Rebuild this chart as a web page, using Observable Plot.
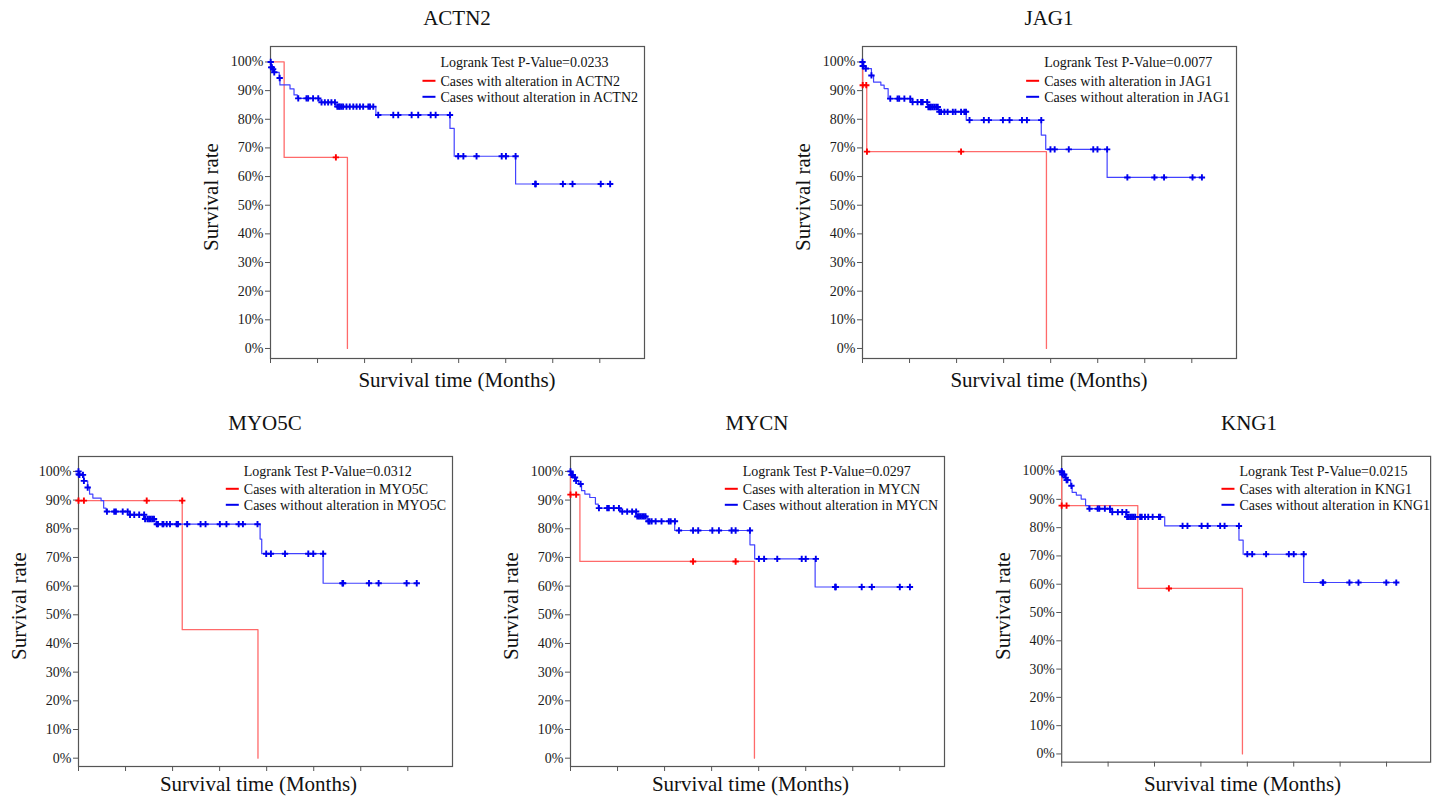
<!DOCTYPE html>
<html>
<head>
<meta charset="utf-8">
<script src="https://cdn.jsdelivr.net/npm/d3@7"></script>
<script src="https://cdn.jsdelivr.net/npm/@observablehq/plot@0.6"></script>
<style>
  html, body { margin: 0; padding: 0; background: #ffffff; }
  #root { position: relative; width: 1440px; height: 803px; overflow: hidden; background: #fff;
          font-family: "Liberation Serif", "Times New Roman", serif; }
  .panel { position: absolute; }
  #overlay { position: absolute; left: 0; top: 0; pointer-events: none; }
</style>
</head>
<body>
<div id="root"></div>
<script>
// ---------------- DATA ----------------
const genes = ["ACTN2", "JAG1", "MYO5C", "MYCN", "KNG1"];
const pValues = ["0.0233", "0.0077", "0.0312", "0.0297", "0.0215"];
const xTicks = [0, 20, 40, 60, 80, 100, 120, 140];
const yTicks = [0, 10, 20, 30, 40, 50, 60, 70, 80, 90, 100];
const seriesNames = ["Cases with alteration in ", "Cases without alteration in "];

// [time (months), survival %] - step points (value holds after the time)
const actn2WithoutSteps = [[0,100],[0.4,98.1],[1.0,97.5],[1.8,96.4],[3.7,94.4],[4.0,92.0],[8.3,90.6],[10.0,88.5],[11.4,87.3],[21.0,85.9],[27.8,84.4],[44.8,81.5],[76.3,76.8],[78.1,67.1],[104.2,57.4],[144.7,57.4]];
const actn2WithoutCensored = [[0.1,100],[0.3,98.1],[0.6,98.1],[1.1,97.5],[1.6,96.4],[3.9,94.4],
  [11.8,87.3],[15.3,87.3],[16.0,87.3],[18.1,87.3],[20.3,87.3],
  [21.7,85.9],[23.1,85.9],[24.5,85.9],[25.9,85.9],[27.4,85.9],
  [28.4,84.4],[29.0,84.4],[29.5,84.4],[30.2,84.4],[30.9,84.4],[32.3,84.4],[33.7,84.4],[35.2,84.4],[36.6,84.4],[38.0,84.4],[39.4,84.4],[41.6,84.4],[42.3,84.4],[43.7,84.4],
  [45.8,81.5],[52.2,81.5],[54.3,81.5],[60.0,81.5],[62.8,81.5],[68.1,81.5],[70.2,81.5],[76.3,81.5],
  [79.8,67.1],[82.0,67.1],[87.6,67.1],[98.3,67.1],[100.1,67.1],[104.2,67.1],
  [112.5,57.4],[112.8,57.4],[124.3,57.4],[128.4,57.4],[140.4,57.4],[144.4,57.4]];
const actn2WithSteps = [[0,100],[5.8,66.7],[32.7,0]];
const actn2WithCensored = [[27.8,66.7]];

const jag1WithoutSteps = [[0,100],[0.1,98.6],[1.4,97.7],[3.8,95.3],[4.7,93.0],[7.8,91.9],[9.2,90.7],[10.9,87.2],[20.6,86.0],[27.7,84.3],[32.4,82.6],[44.1,79.7],[76.0,74.5],[77.9,69.5],[104.0,59.7],[144.5,59.7]];
const jag1WithoutCensored = [[0,100],[0.1,98.6],[0.4,98.6],[1.4,97.7],[3.8,95.3],
  [11.8,87.2],[14.9,87.2],[15.6,87.2],[17.8,87.2],[20.3,87.2],
  [21.3,86.0],[23.4,86.0],[24.9,86.0],[25.6,86.0],[27.5,86.0],
  [28.0,84.3],[28.6,84.3],[29.1,84.3],[29.8,84.3],[30.5,84.3],[31.3,84.3],[32.0,84.3],
  [32.7,82.6],[33.4,82.6],[34.8,82.6],[36.2,82.6],[38.4,82.6],[39.5,82.6],[41.9,82.6],[43.3,82.6],[44.0,82.6],
  [45.5,79.7],[51.6,79.7],[53.7,79.7],[59.7,79.7],[62.5,79.7],[67.8,79.7],[69.9,79.7],[76.0,79.7],
  [79.9,69.5],[81.7,69.5],[87.7,69.5],[98.1,69.5],[99.9,69.5],[104.0,69.5],
  [112.6,59.7],[124.1,59.7],[128.2,59.7],[140.3,59.7],[144.3,59.7]];
const jag1WithSteps = [[0,100],[0.1,91.9],[1.8,68.7],[78.2,0]];
const jag1WithCensored = [[0.1,91.9],[1.6,91.9],[1.9,68.7],[41.9,68.7]];

const myo5cWithoutSteps = [[0,100],[0.4,98.8],[2.3,96.7],[3.9,94.4],[4.7,92.1],[6.1,90.7],[9.6,89.8],[10.7,87.2],[11.7,86.0],[20.9,84.9],[27.6,83.4],[32.9,81.6],[77.2,76.4],[77.9,71.3],[104.0,61.0],[143.9,61.0]];
const myo5cWithoutCensored = [[0,100],[0.1,99.0],[0.4,98.8],[1.9,98.8],[2.3,96.7],[3.9,94.4],
  [12.1,86.0],[15.2,86.0],[15.9,86.0],[18.8,86.0],[20.9,86.0],
  [21.9,84.9],[23.7,84.9],[25.8,84.9],[27.9,84.9],
  [28.3,83.4],[29.3,83.4],[30.0,83.4],[30.7,83.4],[31.4,83.4],[32.1,83.4],
  [33.3,81.6],[33.8,81.6],[35.7,81.6],[36.1,81.6],[37.5,81.6],[38.9,81.6],[41.7,81.6],[42.3,81.6],[46.2,81.6],[51.9,81.6],[54.0,81.6],[60.1,81.6],[62.9,81.6],[68.1,81.6],[69.9,81.6],[76.1,81.6],
  [79.8,71.3],[81.8,71.3],[87.8,71.3],[97.7,71.3],[99.8,71.3],[104.0,71.3],
  [112.2,61.0],[112.5,61.0],[123.5,61.0],[127.6,61.0],[139.5,61.0],[143.8,61.0]];
const myo5cWithSteps = [[0,89.8],[44.1,44.8],[76.3,0]];
const myo5cWithCensored = [[0,89.8],[2.3,89.8],[29.0,89.8],[44.1,89.8]];

const mycnWithoutSteps = [[0,100],[0.7,98.8],[1.4,97.9],[2.4,96.7],[3.5,95.6],[4.7,93.3],[6.1,92.1],[8.2,90.9],[10.6,88.6],[11.8,87.2],[21.3,86.0],[27.7,84.3],[32.6,82.6],[44.3,79.4],[76.3,74.4],[78.3,69.5],[104.0,59.7],[144.4,59.7]];
const mycnWithoutCensored = [[0,100],[0.4,98.8],[1.0,98.8],[1.9,97.9],[2.4,96.7],[4.3,95.6],
  [12.1,87.2],[15.6,87.2],[16.3,87.2],[18.4,87.2],[20.6,87.2],
  [22.0,86.0],[24.1,86.0],[26.2,86.0],[27.9,86.0],
  [28.4,84.3],[29.1,84.3],[29.8,84.3],[30.5,84.3],[31.2,84.3],[31.9,84.3],
  [33.1,82.6],[33.6,82.6],[34.5,82.6],[36.2,82.6],[38.7,82.6],[41.8,82.6],[42.6,82.6],[44.4,82.6],
  [46.1,79.4],[52.1,79.4],[54.3,79.4],[60.3,79.4],[63.1,79.4],[68.5,79.4],[70.2,79.4],[76.3,79.4],
  [80.1,69.5],[82.3,69.5],[87.9,69.5],[98.3,69.5],[100.0,69.5],[104.3,69.5],
  [112.5,59.7],[112.8,59.7],[123.8,59.7],[128.1,59.7],[140.0,59.7],[144.3,59.7]];
const mycnWithSteps = [[0,100],[0,91.9],[4.0,68.6],[78.2,0]];
const mycnWithCensored = [[0,91.9],[2.4,91.9],[52.1,68.6],[70.2,68.6]];

const kng1WithoutSteps = [[0,100],[0.3,98.8],[1.7,97.7],[2.1,96.8],[3.9,94.8],[4.5,92.5],[6.3,91.5],[8.4,90.1],[10.3,87.8],[11.7,86.7],[21.1,85.5],[27.5,83.8],[44.4,80.6],[76.4,75.6],[78.2,70.6],[104.3,60.6],[144.2,60.6]];
const kng1WithoutCensored = [[0,100],[0.1,99.5],[0.3,98.8],[1.1,98.8],[1.7,97.7],[2.1,96.8],[2.5,96.8],[4.2,94.8],
  [12.0,86.7],[15.5,86.7],[16.2,86.7],[18.6,86.7],[20.8,86.7],
  [21.8,85.5],[24.2,85.5],[26.1,85.5],[27.9,85.5],
  [28.2,83.8],[28.9,83.8],[29.6,83.8],[30.3,83.8],[31.0,83.8],[31.7,83.8],[33.8,83.8],[34.5,83.8],[35.9,83.8],[37.3,83.8],[39.2,83.8],[41.9,83.8],[42.5,83.8],
  [52.1,80.6],[54.2,80.6],[60.3,80.6],[62.9,80.6],[68.3,80.6],[70.2,80.6],[76.4,80.6],
  [80.0,70.6],[82.1,70.6],[88.1,70.6],[97.9,70.6],[100.0,70.6],[104.3,70.6],
  [112.5,60.6],[112.7,60.6],[124.0,60.6],[127.9,60.6],[139.9,60.6],[144.2,60.6]];
const kng1WithSteps = [[0,100],[0,87.8],[32.8,58.5],[77.9,0]];
const kng1WithCensored = [[0,87.8],[2.1,87.8],[46.2,58.5]];

// ---------------- LAYOUT ----------------
const panels = [
  {gene: 0, fx: 270,  fy: 46,  fh: 312, ydom: [-3.5, 105.4], wo: actn2WithoutSteps, woC: actn2WithoutCensored, w: actn2WithSteps, wC: actn2WithCensored, row: 0},
  {gene: 1, fx: 862,  fy: 46,  fh: 312, ydom: [-3.5, 105.4], wo: jag1WithoutSteps,  woC: jag1WithoutCensored,  w: jag1WithSteps,  wC: jag1WithCensored,  row: 0},
  {gene: 2, fx: 78,   fy: 456, fh: 310, ydom: [-2.9, 105.2], wo: myo5cWithoutSteps, woC: myo5cWithoutCensored, w: myo5cWithSteps, wC: myo5cWithCensored, row: 1},
  {gene: 3, fx: 570,  fy: 456, fh: 310, ydom: [-2.9, 105.2], wo: mycnWithoutSteps,  woC: mycnWithoutCensored,  w: mycnWithSteps,  wC: mycnWithCensored,  row: 1},
  {gene: 4, fx: 1062, fy: 456, fh: 310, ydom: [-2.9, 105.2], wo: kng1WithoutSteps,  woC: kng1WithoutCensored,  w: kng1WithSteps,  wC: kng1WithCensored,  row: 1}
];
const FW = 374, ML = 60, MR = 10, MT = 10, MB = 20;
const FONT = '"Liberation Serif", "Times New Roman", serif';
const RED_LINE = "#ff6a6a", BLUE_LINE = "#4242ff", RED_PT = "#ff0000", BLUE_PT = "#0000ee";

const root = document.getElementById("root");

for (const p of panels) {
  const chart = Plot.plot({
    width: FW + ML + MR,
    height: p.fh + MT + MB,
    marginLeft: ML, marginRight: MR, marginTop: MT, marginBottom: MB,
    x: {domain: [0, 159]},
    y: {domain: p.ydom},
    style: {fontFamily: FONT, fontSize: "14px", background: "transparent", color: "#1a1a1a", overflow: "visible"},
    marks: [
      Plot.axisY({ticks: yTicks, tickFormat: d => d + "%", tickSize: 5, tickPadding: 2, fontSize: 14, label: null, stroke: "#555"}),
      Plot.axisX({ticks: xTicks, tickFormat: () => "", tickSize: 5, label: null, stroke: "#555"}),
      Plot.frame({stroke: "#555", strokeWidth: 1.2}),
      Plot.line(p.w, {x: d => d[0], y: d => d[1], curve: "step-after", stroke: RED_LINE, strokeWidth: 1.3}),
      Plot.line(p.wo, {x: d => d[0], y: d => d[1], curve: "step-after", stroke: BLUE_LINE, strokeWidth: 1.2}),
      Plot.dot(p.woC, {x: d => d[0], y: d => d[1], symbol: "plus", r: 2.2, stroke: BLUE_PT, strokeWidth: 1.9}),
      Plot.dot(p.wC, {x: d => d[0], y: d => d[1], symbol: "plus", r: 2.2, stroke: RED_PT, strokeWidth: 1.9})
    ]
  });
  const div = document.createElement("div");
  div.className = "panel";
  div.style.left = (p.fx - ML) + "px";
  div.style.top = (p.fy - MT) + "px";
  div.appendChild(chart);
  root.appendChild(div);
}

// ---------------- TEXT OVERLAY ----------------
const svg = d3.select(root).append("svg").attr("id", "overlay")
  .attr("width", 1440).attr("height", 803)
  .style("font-family", FONT).style("fill", "#111");

for (const p of panels) {
  const name = genes[p.gene];
  const cx = p.fx + FW / 2;
  // title
  svg.append("text").attr("x", cx).attr("y", p.row === 0 ? 24.5 : 429.5)
    .attr("text-anchor", "middle").attr("font-size", 21).text(name);
  // y label
  const ly = p.fy + p.fh / 2 - 5;
  const lx = p.fx - 52;
  svg.append("text").attr("transform", `translate(${lx},${ly}) rotate(-90)`)
    .attr("text-anchor", "middle").attr("font-size", 21).text("Survival rate");
  // x label
  svg.append("text").attr("x", p.row === 0 ? cx : cx - 6.5).attr("y", p.row === 0 ? 387.3 : 790.7)
    .attr("text-anchor", "middle").attr("font-size", 21).text("Survival time (Months)");
  // legend
  const g = svg.append("g");
  const b0 = p.row === 0 ? 21.3 : 19.5, b1 = p.row === 0 ? 39.8 : 37.8, b2 = p.row === 0 ? 55.8 : 53.8;
  const t0 = g.append("text").attr("y", p.fy + b0).attr("font-size", 14).text("Logrank Test P-Value=" + pValues[p.gene]);
  const t1 = g.append("text").attr("y", p.fy + b1).attr("font-size", 14).text(seriesNames[0] + name);
  const t2 = g.append("text").attr("y", p.fy + b2).attr("font-size", 14).text(seriesNames[1] + name);
  const maxW = Math.max(t0.node().getComputedTextLength(), t1.node().getComputedTextLength(), t2.node().getComputedTextLength());
  const tx = p.fx + FW - 6 - maxW;
  t0.attr("x", tx); t1.attr("x", tx); t2.attr("x", tx);
  g.append("line").attr("x1", tx - 18).attr("x2", tx - 5).attr("y1", p.fy + b1 - 5).attr("y2", p.fy + b1 - 5)
    .attr("stroke", RED_PT).attr("stroke-width", 2);
  g.append("line").attr("x1", tx - 18).attr("x2", tx - 5).attr("y1", p.fy + b2 - 5).attr("y2", p.fy + b2 - 5)
    .attr("stroke", BLUE_PT).attr("stroke-width", 2);
}
</script>
</body>
</html>
